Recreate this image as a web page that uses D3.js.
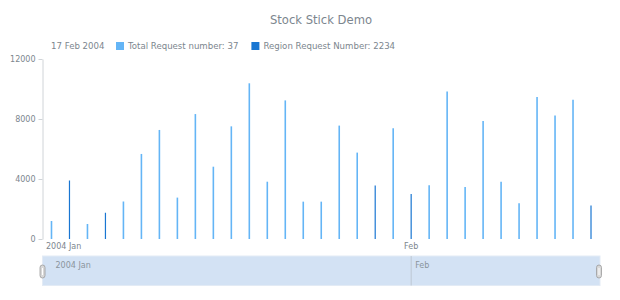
<!DOCTYPE html>
<html>
<head>
<meta charset="utf-8">
<script src="https://cdn.jsdelivr.net/npm/d3@7"></script>
<style>
  html, body { margin: 0; padding: 0; background: #fff; }
  svg { display: block; font-family: "DejaVu Sans", Verdana, sans-serif; }
</style>
</head>
<body>
<svg id="chart" width="620" height="300"></svg>
<script>
// ---- data ----
const dates = [
  "2004-01-02","2004-01-05","2004-01-06","2004-01-07","2004-01-08","2004-01-09",
  "2004-01-12","2004-01-13","2004-01-14","2004-01-15","2004-01-16",
  "2004-01-20","2004-01-21","2004-01-22","2004-01-23",
  "2004-01-26","2004-01-27","2004-01-28","2004-01-29","2004-01-30",
  "2004-02-02","2004-02-03","2004-02-04","2004-02-05","2004-02-06",
  "2004-02-09","2004-02-10","2004-02-11","2004-02-12","2004-02-13",
  "2004-02-17"
];
const totalValues = [
  1200, null, 1000, null, 2500, 5670, 7270, 2760, 8330, 4820, 7510,
  10380, 3820, 9240, 2490, 2490, 7560, 5760, null, 7380,
  null, 3580, 9840, 3470, 7870, 3820, 2380, 9470, 8240, 9290, null
];
const regionValues = [
  null, 3900, null, 1750, null, null, null, null, null, null, null,
  null, null, null, null, null, null, null, 3560, null,
  3000, null, null, null, null, null, null, null, null, null, 2234
];
const seriesNames = ["Total Request number", "Region Request Number"];
const legendValues = [37, 2234];
const legendDate = "17 Feb 2004";
const yTicks = [0, 4000, 8000, 12000];
const monthStarts = ["2004-01-02", "2004-02-02"];
const monthLabels = ["2004 Jan", "Feb"];
const title = "Stock Stick Demo";

// ---- styles ----
const colors = ["#64b5f6", "#1976d2"];
const textColor = "#7c868e";

const svg = d3.select("#chart");
const plot = { left: 42.5, right: 600, top: 59, bottom: 239 };

const x = d3.scaleBand().domain(dates).range([plot.left, plot.right]);
const xc = d => x(d) + x.bandwidth() / 2;
const y = d3.scaleLinear().domain([0, 12000]).range([plot.bottom, plot.top]);

// title
svg.append("text")
  .attr("x", 321).attr("y", 24)
  .attr("text-anchor", "middle")
  .attr("font-size", 11.6)
  .attr("fill", textColor)
  .text(title);

// legend
const lg = svg.append("g").attr("font-size", 8.6).attr("fill", textColor);
lg.append("text").attr("x", 51).attr("y", 49).text(legendDate);
let lx = 116;
seriesNames.forEach((name, i) => {
  lg.append("rect").attr("x", lx).attr("y", 42).attr("width", 8).attr("height", 8)
    .attr("fill", colors[i]);
  const t = lg.append("text").attr("x", lx + 12).attr("y", 49)
    .text(name + ": " + legendValues[i]);
  lx += 12 + t.node().getComputedTextLength() + 13;
});

// y axis
const yAxis = d3.axisLeft(y).tickValues(yTicks).tickFormat(d3.format("d"))
  .tickSize(4).tickSizeOuter(0).tickPadding(3);
const ya = svg.append("g").attr("transform", `translate(${plot.left},0)`).call(yAxis);
ya.select(".domain").attr("stroke", "#d0d4d8");
ya.selectAll(".tick line").attr("stroke", "#d0d4d8");
ya.selectAll(".tick text").attr("fill", textColor).attr("font-size", 8)
  .attr("font-family", "DejaVu Sans, sans-serif");

// sticks
const seriesData = [totalValues, regionValues];
seriesData.forEach((vals, si) => {
  svg.append("g").selectAll("line")
    .data(dates.map((d, i) => ({ d, v: vals[i] })).filter(p => p.v != null))
    .join("line")
    .attr("x1", p => xc(p.d)).attr("x2", p => xc(p.d))
    .attr("y1", y(0)).attr("y2", p => y(p.v))
    .attr("stroke", colors[si])
    .attr("stroke-width", si === 0 ? 1.6 : 1.2);
});

// x axis month labels
const xl = svg.append("g").attr("font-size", 8).attr("fill", textColor);
monthStarts.forEach((d, i) => {
  const t = xl.append("text").attr("y", 249).attr("text-anchor", "middle")
    .attr("x", xc(d)).text(monthLabels[i]);
  const w = t.node().getComputedTextLength();
  if (xc(d) - w / 2 < plot.left + 3) {
    t.attr("text-anchor", "start").attr("x", plot.left + 3.5);
  }
});

// scroller
const sc = { top: 256, bottom: 285.5 };
const sg = svg.append("g");
sg.append("rect")
  .attr("x", plot.left).attr("y", sc.top)
  .attr("width", plot.right - plot.left).attr("height", sc.bottom - sc.top)
  .attr("fill", "#d3e2f4").attr("stroke", "#e3ebf5").attr("stroke-width", 1);
monthStarts.forEach((d, i) => {
  if (i > 0) {
    sg.append("line").attr("x1", xc(d)).attr("x2", xc(d))
      .attr("y1", sc.top).attr("y2", sc.bottom)
      .attr("stroke", "#b8c2cc").attr("stroke-width", 0.8);
  }
  sg.append("text").attr("x", xc(d) + 4).attr("y", 268)
    .attr("font-size", 8).attr("fill", "#8a949c").text(monthLabels[i]);
});
[plot.left, plot.right - 1].forEach(hx => {
  sg.append("rect").attr("x", hx - 2.5).attr("y", 265).attr("width", 5).attr("height", 13)
    .attr("rx", 2.5).attr("ry", 2.5)
    .attr("fill", "#d8d8d8").attr("stroke", "#9a9a9a").attr("stroke-width", 0.8);
  sg.append("line").attr("x1", hx).attr("x2", hx).attr("y1", 268).attr("y2", 275)
    .attr("stroke", "#ffffff").attr("stroke-width", 1);
});
</script>
</body>
</html>
